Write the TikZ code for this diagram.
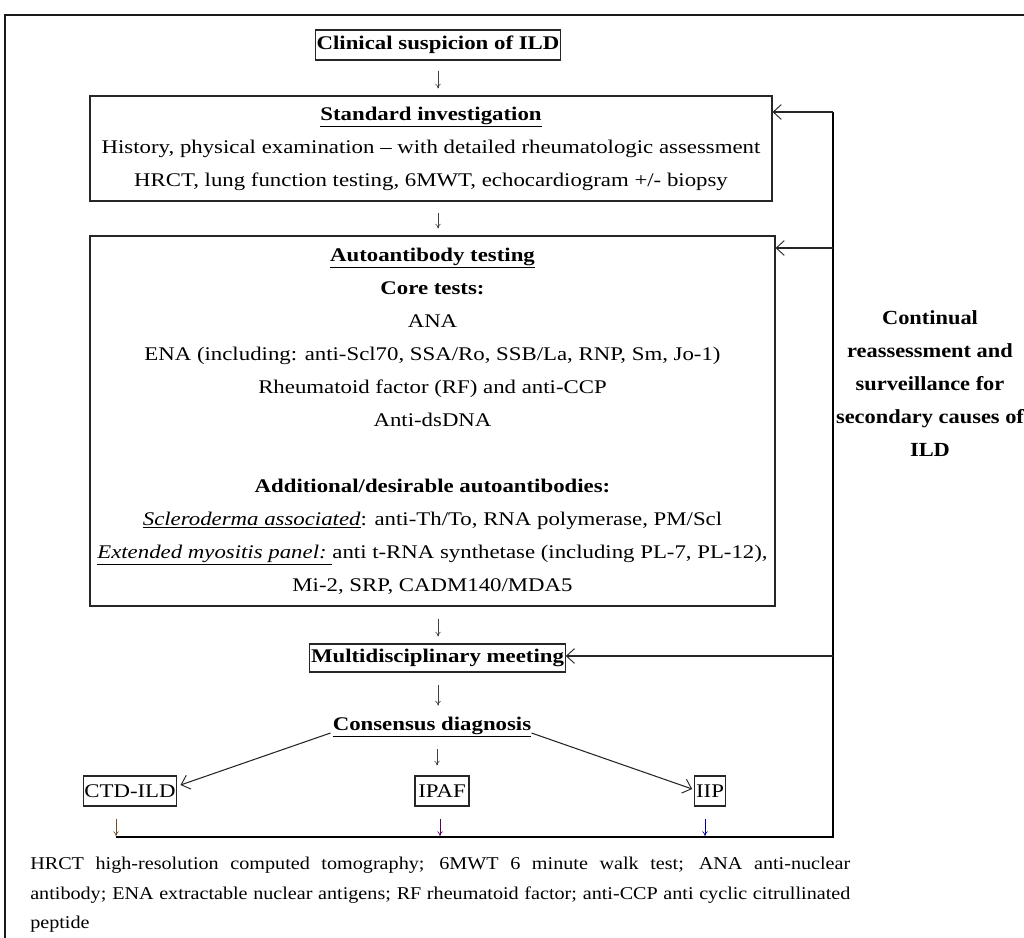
\documentclass[tikz,border=0pt]{standalone}
\usepackage{fontspec}
\setmainfont[FakeStretch=1.18]{Liberation Serif}
\newfontfamily\notefont[FakeStretch=1.12]{Liberation Serif}
\newfontfamily\sidefont[FakeStretch=1.12]{Liberation Serif}
\usetikzlibrary{arrows.meta,calc}
\tikzset{
  box/.style={draw=black!85, line width=0.8pt, inner xsep=1pt, inner ysep=0pt, align=center},
  plain/.style={inner sep=0pt, align=center},
  sarrow/.style={draw=black!75, line width=0.5pt, -{To[length=3.5pt,width=4pt]}},
  barrow/.style={draw=black!85, line width=0.8pt, -{Straight Barb[length=6pt,width=11pt,line width=0.7pt]}},
  loop/.style={draw=black, line width=0.8pt},
}
\begin{document}
\begin{tikzpicture}[x=0.75pt,y=-0.75pt]
\useasboundingbox (0,0) rectangle (1024,938);
\fontsize{14.5}{24.75}\selectfont
% frame
\draw[line width=1.3pt, black!90] (5,938) -- (5,15) -- (1024,15);

% nodes
\node[box, minimum width={236*0.75pt}, minimum height={30*0.75pt}] (clin) at (438,45) {\textbf{Clinical suspicion of ILD}};
\node[box, minimum width={682*0.75pt}, minimum height={105*0.75pt}] (std) at (431,148.5)
 {\underline{\textbf{Standard investigation}}\\
  History, physical examination -- with detailed rheumatologic assessment\\
  HRCT, lung function testing, 6MWT, echocardiogram +/- biopsy};
\node[box, minimum width={685*0.75pt}, minimum height={370*0.75pt}] (auto) at (432.5,421)
 {\underline{\textbf{Autoantibody testing}}\\
  \textbf{Core tests:}\\
  ANA\\
  ENA (including: anti-Scl70, SSA/Ro, SSB/La, RNP, Sm, Jo-1)\\
  Rheumatoid factor (RF) and anti-CCP\\
  Anti-dsDNA\\[24.75pt]
  \textbf{Additional/desirable autoantibodies:}\\
  \underline{\textit{Scleroderma associated}}: anti-Th/To, RNA polymerase, PM/Scl\\
  \underline{\textit{Extended myositis panel:}\ }anti t-RNA synthetase (including PL-7, PL-12),\\
  Mi-2, SRP, CADM140/MDA5};
\node[box, minimum width={249*0.75pt}, minimum height={28*0.75pt}] (mdm) at (437.5,658) {\textbf{Multidisciplinary meeting}};
\node[plain] (cons) at (432,727) {\underline{\textbf{Consensus diagnosis}}};
\node[box, minimum width={86*0.75pt}, minimum height={30*0.75pt}] (ctd) at (130,791) {CTD-ILD};
\node[box, minimum width={54*0.75pt}, minimum height={30*0.75pt}] (ipaf) at (442,791) {IPAF};
\node[box, minimum width={26*0.75pt}, minimum height={30*0.75pt}] (iip) at (710,791) {IIP};

\node[plain, font=\sidefont\bfseries\fontsize{15}{24.75}\selectfont] (side) at (930,384)
 {Continual\\reassessment and\\surveillance for\\secondary causes of\\ILD};

\node[anchor=north west, inner sep=0pt, text width={820*0.75pt}, align=justify,
      font=\notefont\fontsize{13.5}{22}\selectfont] (note) at (30,857)
 {HRCT high-resolution computed tomography; 6MWT 6 minute walk test; ANA anti-nuclear\linebreak
  antibody; ENA extractable nuclear antigens; RF rheumatoid factor; anti-CCP anti cyclic citrullinated\linebreak
  peptide};

% small down arrows (vertical)
\coordinate (a1s) at ($(clin.south)+(0,10)$);   \coordinate (a1e) at ($(std.north)+(0,-7)$);
\coordinate (a2s) at ($(a1s |- std.south)+(0,11)$); \coordinate (a2e) at ($(auto.north)+(0,-7)$);
\coordinate (a3s) at ($(a1s |- auto.south)+(0,12)$); \coordinate (a3e) at ($(mdm.north)+(0,-7)$);
\coordinate (a4s) at ($(a1s |- mdm.south)+(0,12)$); \coordinate (a4e) at ($(cons.north)+(0,-11)$);
\coordinate (a5s) at ($(a1s |- cons.south)+(-1,12)$); \coordinate (a5e) at ($(ipaf.north)+(0,-10)$);
\draw[sarrow] (a1s) -- (a1s |- a1e);
\draw[sarrow] (a2s) -- (a2s |- a2e);
\draw[sarrow] (a3s) -- (a3s |- a3e);
\draw[sarrow] (a4s) -- (a4s |- a4e);
\draw[sarrow] (a5s) -- (a5s |- a5e);

% diagonal arrows
\draw[barrow] ($(cons.west)+(-2,6)$) -- ($(ctd.east)+(3,-6)$);
\draw[barrow] ($(cons.east)+(0,6)$) -- ($(iip.west)+(-2,-2)$);

% feedback loop
\coordinate (b1) at (116,837);
\coordinate (b2) at (440,837);
\coordinate (b3) at (705,837);
\coordinate (br) at (833,837);
\coordinate (t1) at (833,112);
\coordinate (t2) at (833,248);
\coordinate (t3) at (833,656);
\draw[sarrow, draw=brown!60!black] ($(b1 |- ctd.south)+(0,12)$) -- ($(b1)+(0,-1)$);
\draw[sarrow, draw=violet!70!black] ($(b2 |- ipaf.south)+(0,12)$) -- ($(b2)+(0,-1)$);
\draw[sarrow, draw=blue!60!black] ($(b3 |- iip.south)+(0,12)$) -- ($(b3)+(0,-1)$);
\draw[loop] (b1) -- (br) -- (t1);
\draw[barrow] (t1) -- (std.east |- t1);
\draw[barrow] (t2) -- (auto.east |- t2);
\draw[barrow] (t3) -- (mdm.east |- t3);
\end{tikzpicture}
\end{document}
